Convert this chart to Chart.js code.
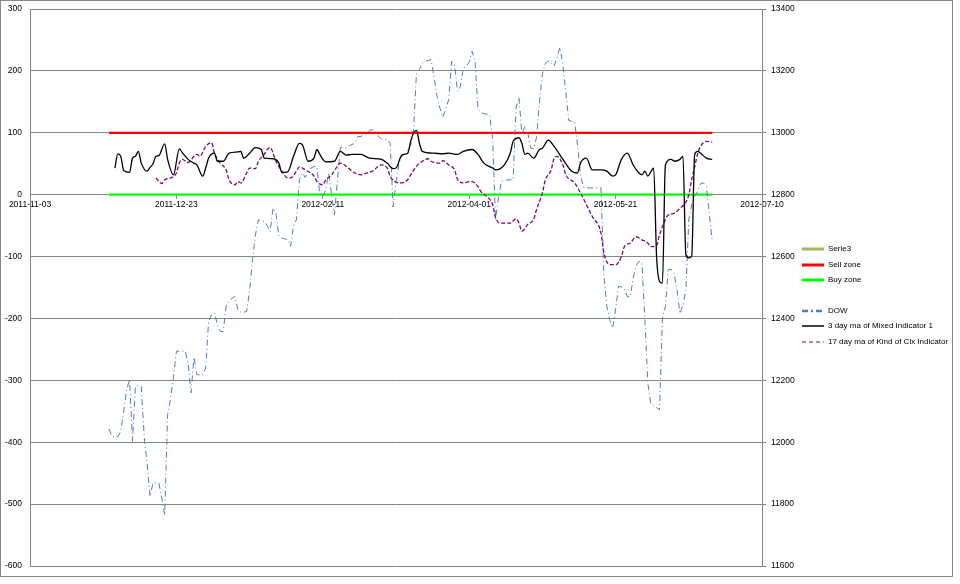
<!DOCTYPE html>
<html lang="en">
<head>
<meta charset="UTF-8">
<title>DOW vs indicators</title>
<script src="https://cdn.jsdelivr.net/npm/chart.js"></script>
<style>
  html, body { margin: 0; padding: 0; background: #fff; }
  #wrap { width: 960px; height: 584px; }
</style>
</head>
<body>
<div id="wrap"><canvas id="chart" width="960" height="584"></canvas></div>
<script>
// x values are days counted from the first axis date
const startDate = Date.UTC(2011, 10, 3);
const xTicks = [0, 50, 100, 150, 200, 250];
const leftTicks = [-600, -500, -400, -300, -200, -100, 0, 100, 200, 300];
const rightTicks = [11600, 11800, 12000, 12200, 12400, 12600, 12800, 13000, 13200, 13400];

// zones
const zoneDays = [27, 233];
const sellZone = [100, 100];
const buyZone = [0, 0];

// DOW close, one value per day from dowStartDay
const dowStartDay = 27;
const dowValues = [
  12043, 12019, 12017, 12017, 12035, 12100, 12170, 12202, 12003, 12180,   // 27-36
  12183, 12180, 12019, 11930, 11825, 11868, 11868, 11868, 11820, 11763,   // 37-46
  12090, 12140, 12210, 12294, 12294, 12294, 12294, 12256, 12160, 12275,   // 47-56
  12218, 12218, 12218, 12240, 12390, 12412, 12418, 12380, 12358, 12358,   // 57-66
  12440, 12458, 12465, 12471, 12428, 12420, 12420, 12423, 12490, 12590,   // 67-76
  12670, 12719, 12716, 12714, 12700, 12681, 12757, 12740, 12665, 12660,   // 77-86
  12657, 12655, 12633, 12700, 12719, 12848, 12870, 12856, 12875, 12886,   // 87-96
  12891, 12890, 12800, 12795, 12816, 12871, 12800, 12735, 12848, 12952,   // 97-106
  12951, 12951, 12958, 12962, 12967, 12988, 12988, 12993, 12999, 13008,   // 107-116
  13010, 13005, 12988, 12980, 12978, 12978, 12967, 12760, 12840, 12900,   // 117-126
  12925, 12932, 12945, 12960, 13010, 13195, 13204, 13225, 13231, 13234,   // 127-136
  13236, 13180, 13120, 13080, 13050, 13078, 13107, 13231, 13220, 13134,   // 137-146
  13150, 13209, 13215, 13228, 13263, 13230, 13080, 13066, 13062, 13060,   // 147-156
  13058, 12980, 12720, 12790, 12843, 12845, 12848, 12848, 12848, 13080,   // 157-166
  13115, 12995, 13021, 13000, 12951, 12948, 12985, 13100, 13190, 13225,   // 167-176
  13231, 13225, 13215, 13245, 13276, 13220, 13130, 13040, 13037, 13035,   // 177-186
  12960, 12865, 12825, 12822, 12822, 12822, 12822, 12822, 12822, 12540,   // 187-196
  12439, 12396, 12369, 12430, 12504, 12502, 12497, 12470, 12470, 12530,   // 197-206
  12570, 12585, 12579, 12400, 12192, 12125, 12118, 12112, 12105, 12400,   // 207-216
  12439, 12558, 12558, 12545, 12490, 12415, 12445, 12490, 12720, 12768,   // 217-226
  12795, 12810, 12835, 12838, 12827, 12740, 12649                         // 227-233
];

// 3 day ma of Mixed Indicator 1
const mixedDays = [
  29, 30, 31, 32, 34, 35, 36, 37, 38, 40, 41, 42, 43, 44, 46, 47, 49, 51, 52, 54,
  56, 57, 59, 60, 61, 63, 64, 66, 68, 71, 72, 73, 75, 77, 79, 80, 83, 85, 86, 88,
  90, 92, 93, 95, 97, 98, 99, 100, 101, 104, 106, 108, 110, 113, 116, 120, 122, 124, 125, 127,
  129, 130, 131, 132, 133, 134, 138, 141, 143, 146, 148, 151, 153, 155, 158, 159, 162, 164, 165, 167,
  168, 169, 170, 172, 174, 175, 177, 179, 182, 185, 187, 188, 190, 192, 195, 197, 199, 200, 202, 204,
  206, 208, 209, 210, 211, 213, 214, 215, 216, 217, 219, 220, 222, 223, 224, 225, 226, 227, 228, 229,
  231, 233
];
const mixedValues = [
  43, 66, 62, 39, 36, 59, 62, 70, 51, 38, 44, 50, 62, 63, 82, 57, 32, 74, 68, 57,
  51, 48, 30, 43, 59, 67, 54, 54, 67, 69, 70, 59, 67, 76, 73, 59, 58, 51, 36, 37,
  62, 83, 81, 54, 59, 73, 65, 57, 53, 54, 70, 64, 65, 65, 59, 57, 51, 42, 43, 64,
  67, 86, 100, 104, 83, 70, 67, 66, 67, 65, 70, 73, 65, 51, 43, 40, 48, 67, 86, 92,
  83, 65, 67, 59, 73, 75, 88, 78, 57, 38, 35, 51, 59, 40, 40, 38, 30, 32, 57, 67,
  48, 35, 32, 38, 30, 43, -100, -140, -143, 48, 57, 54, 57, 62, -97, -102, -99, 65, 70, 67,
  59, 57
];

// 17 day ma of Kind of Clx Indicator
const clxDays = [
  43, 45, 46, 48, 50, 51, 52, 54, 56, 57, 58, 60, 62, 63, 65, 67, 68, 70, 71, 72,
  74, 75, 77, 78, 80, 81, 82, 84, 86, 88, 89, 91, 92, 94, 97, 98, 100, 101, 103, 105,
  106, 108, 110, 113, 115, 117, 119, 120, 122, 123, 125, 126, 129, 130, 132, 134, 136, 137, 140, 141,
  143, 145, 146, 148, 150, 151, 153, 154, 156, 158, 159, 161, 164, 166, 167, 168, 170, 172, 173, 175,
  176, 178, 179, 180, 182, 183, 186, 188, 190, 192, 195, 196, 198, 200, 202, 203, 205, 207, 209, 211,
  212, 214, 215, 217, 218, 220, 222, 224, 225, 226, 227, 228, 229, 231, 233
];
const clxValues = [
  27, 18, 24, 27, 35, 51, 57, 52, 62, 65, 62, 78, 84, 67, 51, 40, 24, 16, 21, 19,
  35, 43, 42, 54, 65, 73, 76, 54, 38, 27, 27, 38, 45, 40, 30, 21, 16, 24, 32, 46,
  51, 46, 38, 32, 35, 38, 46, 48, 43, 30, 20, 19, 24, 32, 46, 54, 58, 54, 51, 55,
  48, 40, 25, 19, 21, 21, 13, 5, -3, -16, -37, -46, -46, -39, -46, -59, -48, -40, -24, 3,
  24, 40, 59, 62, 48, 32, 19, 3, -16, -35, -62, -94, -113, -113, -100, -84, -78, -68, -73, -78,
  -84, -82, -65, -40, -33, -30, -22, -12, 0, 25, 45, 66, 78, 86, 85
];

function pts(days, vals) {
  return days.map((d, i) => ({ x: d, y: vals[i] }));
}
function dayLabel(d) {
  return new Date(startDate + d * 86400000).toISOString().slice(0, 10);
}

const gridColor = '#868686';
const font = { family: 'Liberation Sans', size: 8.5 };

// legend entries, drawn by hand on the right
const legendRows = [
  { text: 'Serie3', color: '#9bbb59', width: 3, dash: [], y: 249 },
  { text: 'Sell zone', color: '#ff0000', width: 3, dash: [], y: 265 },
  { text: 'Buy zone', color: '#00ff00', width: 3, dash: [], y: 280 },
  { text: 'DOW', color: '#4a7ebb', width: 2.5, dash: [6, 3, 2, 3], y: 311 },
  { text: '3 day ma of Mixed Indicator 1', color: '#000000', width: 1.5, dash: [], y: 326 },
  { text: '17 day ma of Kind of Clx Indicator', color: '#800080', width: 1.2, dash: [4, 3], y: 342 }
];

const legendPlugin = {
  id: 'sideLegend',
  afterDraw(chart) {
    const ctx = chart.ctx;
    ctx.save();
    legendRows.forEach(r => {
      ctx.beginPath();
      ctx.strokeStyle = r.color;
      ctx.lineWidth = r.width;
      ctx.setLineDash(r.dash);
      ctx.moveTo(802, r.y);
      ctx.lineTo(824, r.y);
      ctx.stroke();
      ctx.setLineDash([]);
      ctx.fillStyle = '#000';
      ctx.font = '8px "Liberation Sans"';
      ctx.textBaseline = 'middle';
      ctx.fillText(r.text, 828, r.y);
    });
    // outer frame
    ctx.strokeStyle = '#888';
    ctx.lineWidth = 1;
    ctx.strokeRect(0.5, 0.5, 952, 576);
    ctx.restore();
  }
};

function fixWidth(w) {
  return s => {
    s.width = w;
    s.paddingTop = 0;
    s.paddingBottom = 0;
  };
}

new Chart(document.getElementById('chart'), {
  type: 'line',
  data: {
    datasets: [
      {
        label: '3 day ma of Mixed Indicator 1',
        data: pts(mixedDays, mixedValues),
        borderColor: '#000000', borderWidth: 1.3,
        cubicInterpolationMode: 'monotone', yAxisID: 'y'
      },
      {
        label: '17 day ma of Kind of Clx Indicator',
        data: pts(clxDays, clxValues),
        borderColor: '#800080', borderWidth: 1.3, borderDash: [4, 2],
        cubicInterpolationMode: 'monotone', yAxisID: 'y'
      },
      {
        label: 'DOW',
        data: dowValues.map((v, i) => ({ x: dowStartDay + i, y: v })),
        borderColor: '#4a7ebb', borderWidth: 1, borderDash: [6, 3, 1, 3],
        yAxisID: 'y2'
      },
      {
        label: 'Buy zone',
        data: pts(zoneDays, buyZone),
        borderColor: '#00ff00', borderWidth: 2.2, yAxisID: 'y'
      },
      {
        label: 'Sell zone',
        data: pts(zoneDays, sellZone),
        borderColor: '#ff0000', borderWidth: 2.2, yAxisID: 'y'
      },
      {
        label: 'Serie3',
        data: [],
        borderColor: '#9bbb59', borderWidth: 2.2, yAxisID: 'y'
      }
    ]
  },
  options: {
    responsive: false,
    animation: false,
    elements: { point: { radius: 0 }, line: { fill: false } },
    layout: { padding: { top: 9, bottom: 18, left: 0, right: 0 } },
    plugins: { legend: { display: false }, tooltip: { enabled: false } },
    scales: {
      x: {
        type: 'linear',
        position: { y: 0 },
        min: xTicks[0], max: xTicks[xTicks.length - 1],
        afterBuildTicks: s => { s.ticks = xTicks.map(v => ({ value: v })); },
        ticks: {
          autoSkip: false, maxRotation: 0, padding: 1,
          color: '#000', font: font,
          callback: v => dayLabel(v)
        },
        grid: { drawOnChartArea: false, drawTicks: true, tickLength: 4, color: gridColor },
        border: { color: gridColor }
      },
      y: {
        type: 'linear', position: 'left',
        min: leftTicks[0], max: leftTicks[leftTicks.length - 1],
        afterBuildTicks: s => { s.ticks = leftTicks.map(v => ({ value: v })); },
        ticks: { color: '#000', font: font, padding: 8, callback: v => String(v) },
        grid: { color: gridColor, drawTicks: false },
        border: { color: gridColor },
        afterFit: fixWidth(30)
      },
      y2: {
        type: 'linear', position: 'right',
        min: rightTicks[0], max: rightTicks[rightTicks.length - 1],
        afterBuildTicks: s => { s.ticks = rightTicks.map(v => ({ value: v })); },
        ticks: { color: '#000', font: font, padding: 5, callback: v => String(v) },
        grid: { drawOnChartArea: false, tickLength: 4, color: gridColor },
        border: { color: gridColor },
        afterFit: fixWidth(198)
      }
    }
  },
  plugins: [legendPlugin]
});
</script>
</body>
</html>
